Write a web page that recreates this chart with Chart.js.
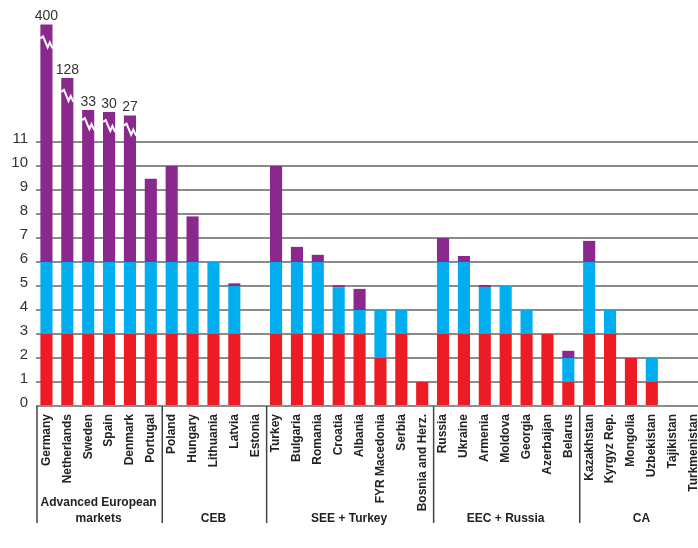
<!DOCTYPE html>
<html>
<head>
<meta charset="utf-8">
<script src="https://cdn.jsdelivr.net/npm/chart.js@4"></script>
<style>
  html, body { margin: 0; padding: 0; background: #fff; overflow: hidden; }
  #wrap { width: 704px; height: 548px; }
</style>
</head>
<body>
<div id="wrap"><canvas id="chart"></canvas></div>
<script>
const countries = ['Germany', 'Netherlands', 'Sweden', 'Spain', 'Denmark', 'Portugal',
  'Poland', 'Hungary', 'Lithuania', 'Latvia', 'Estonia',
  'Turkey', 'Bulgaria', 'Romania', 'Croatia', 'Albania', 'FYR Macedonia', 'Serbia', 'Bosnia and Herz.',
  'Russia', 'Ukraine', 'Armenia', 'Moldova', 'Georgia', 'Azerbaijan', 'Belarus',
  'Kazakhstan', 'Kyrgyz Rep.', 'Mongolia', 'Uzbekistan', 'Tajikistan', 'Turkmenistan'];

const groupNames = ['Advanced European\nmarkets', 'CEB', 'SEE + Turkey', 'EEC + Russia', 'CA'];
const groupSizes = [6, 5, 8, 7, 6];

// stacked segments
const redPart = [3, 3, 3, 3, 3, 3,  3, 3, 3, 3, 0,  3, 3, 3, 3, 3, 2, 3, 1,  3, 3, 3, 3, 3, 3, 1,  3, 3, 2, 1, 0, 0];
const bluePart = [3, 3, 3, 3, 3, 3,  3, 3, 3, 2, 0,  3, 3, 3, 1.95, 1, 2, 1, 0,  3, 3, 1.96, 2, 1, 0, 1,  3, 1, 0, 1, 0, 0];
// first five are drawn on a broken axis (true values in breakLabels)
const purplePart = [9.9, 7.67, 6.33, 6.25, 6.1, 3.47,  4, 1.9, 0, 0.11, 0,  4, 0.63, 0.3, 0.08, 0.88, 0, 0, 0,
  1, 0.25, 0.08, 0, 0, 0, 0.3,  0.88, 0, 0, 0, 0, 0];
const breakLabels = ['400', '128', '33', '30', '27'];

const yTicksMax = 11;

const breaks = {
  id: 'breaks',
  afterDatasetsDraw(chart) {
    const ctx = chart.ctx;
    const meta = chart.getDatasetMeta(2);
    ctx.save();
    breakLabels.forEach((txt, i) => {
      const bar = meta.data[i];
      const x0 = bar.x - bar.width / 2;
      const w = bar.width;
      const yc = bar.y + (i < 2 ? 18 : 14);
      ctx.strokeStyle = '#fff';
      ctx.lineWidth = 2;
      ctx.beginPath();
      ctx.moveTo(x0, yc - 4);
      ctx.lineTo(x0 + w * 0.22, yc - 6);
      ctx.lineTo(x0 + w * 0.6, yc + 5);
      ctx.lineTo(x0 + w * 0.78, yc + 0);
      ctx.lineTo(x0 + w, yc + 6);
      ctx.stroke();
      ctx.fillStyle = '#333';
      ctx.font = '14px "Liberation Sans", Arial, sans-serif';
      ctx.textAlign = 'center';
      ctx.textBaseline = 'bottom';
      ctx.fillText(txt, bar.x, bar.y - 1);
    });
    ctx.restore();
  }
};

const groupAxis = {
  id: 'groupAxis',
  afterDraw(chart) {
    const ctx = chart.ctx;
    const xs = chart.scales.x;
    const bottom = chart.chartArea.bottom;
    const step = xs.getPixelForValue(1) - xs.getPixelForValue(0);
    ctx.save();
    ctx.strokeStyle = '#444';
    ctx.lineWidth = 1.5;
    ctx.fillStyle = '#222';
    ctx.font = 'bold 12px "Liberation Sans", Arial, sans-serif';
    ctx.textAlign = 'center';
    ctx.textBaseline = 'middle';
    let start = 0;
    groupSizes.forEach((n, g) => {
      const left = xs.getPixelForValue(start) - step / 2 + 1;
      ctx.beginPath();
      ctx.moveTo(left, bottom);
      ctx.lineTo(left, bottom + 117);
      ctx.stroke();
      const cx = (xs.getPixelForValue(start) + xs.getPixelForValue(start + n - 1)) / 2;
      const lines = groupNames[g].split('\n');
      lines.forEach((ln, k) => {
        ctx.fillText(ln, cx, bottom + 113 - (lines.length - 1 - k) * 16);
      });
      start += n;
    });
    ctx.restore();
  }
};

new Chart(document.getElementById('chart'), {
  type: 'bar',
  data: {
    labels: countries,
    datasets: [
      { label: 'red', data: redPart, backgroundColor: '#ed1c24' },
      { label: 'blue', data: bluePart, backgroundColor: '#00aeef' },
      { label: 'purple', data: purplePart, backgroundColor: '#8b288d' }
    ]
  },
  options: {
    responsive: true,
    maintainAspectRatio: false,
    animation: false,
    datasets: { bar: { categoryPercentage: 1, barPercentage: 0.58, borderWidth: 0 } },
    layout: { padding: { top: 10, right: 0, left: 0, bottom: 0 } },
    plugins: { legend: { display: false }, tooltip: { enabled: false } },
    scales: {
      x: {
        stacked: true,
        grid: { display: false },
        border: { display: false },
        ticks: {
          autoSkip: false,
          maxRotation: 90,
          minRotation: 90,
          padding: 0,
          color: '#222',
          font: { family: '"Liberation Sans", Arial, sans-serif', size: 12, weight: 'bold' }
        },
        afterFit(scale) {
          scale.height = 142;
          scale.paddingLeft = 0;
          scale.paddingRight = 0;
        }
      },
      y: {
        stacked: true,
        min: 0,
        max: 16.5,
        border: { display: false },
        grid: { color: '#8c8c8c', lineWidth: 2, drawTicks: false },
        ticks: {
          stepSize: 1,
          padding: 8,
          labelOffset: -3,
          color: '#333',
          font: { family: '"Liberation Sans", Arial, sans-serif', size: 15 },
          callback(v) { return (Number.isInteger(v) && v <= yTicksMax) ? String(v) : null; }
        },
        afterFit(scale) {
          scale.width = 36;
          scale.paddingTop = 0;
          scale.paddingBottom = 0;
        }
      }
    }
  },
  plugins: [breaks, groupAxis]
});
</script>
</body>
</html>
